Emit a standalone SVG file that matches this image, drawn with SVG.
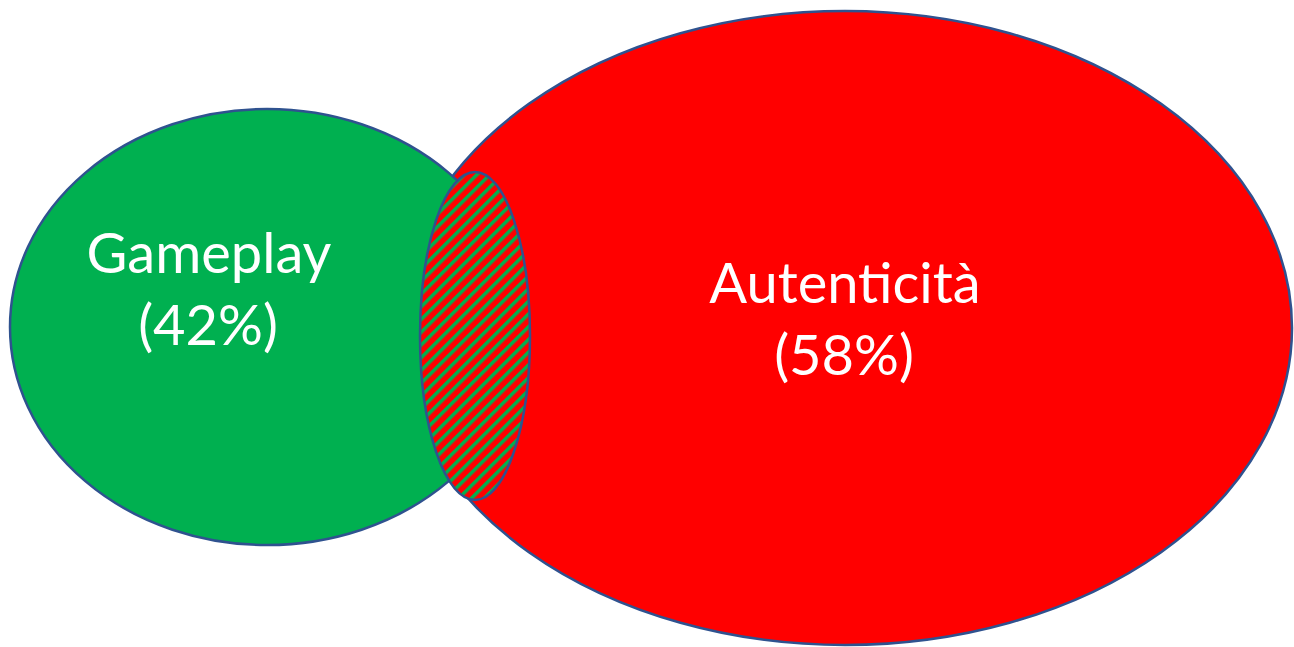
<svg xmlns="http://www.w3.org/2000/svg" width="1294" height="647" viewBox="0 0 1294 647">
<style>
.shape{stroke:#2F528F;stroke-width:2.5}
.lbl{font-family:Lato,"Open Sans","Liberation Sans",sans-serif;font-size:56px;fill:#FFFFFF;text-anchor:middle}
</style>
<defs>
<pattern id="hatch" patternUnits="userSpaceOnUse" width="9" height="9" patternTransform="rotate(45)">
<rect width="9" height="9" fill="#FF0000"/>
<rect width="3.5" height="9" fill="#00B050"/>
</pattern>
</defs>
<g id="autenticita">
<ellipse class="shape" cx="845" cy="328" rx="447" ry="317" fill="#FF0000"/>
<text class="lbl" x="845" y="303">Autenticità</text>
<text class="lbl" x="844" y="375">(58%)</text>
</g>
<g id="gameplay">
<ellipse class="shape" cx="267" cy="327" rx="257" ry="218" fill="#00B050"/>
<text class="lbl" x="209" y="273">Gameplay</text>
<text class="lbl" x="208" y="345">(42%)</text>
</g>
<g id="overlap">
<ellipse class="shape" cx="475" cy="336" rx="55" ry="164" fill="url(#hatch)"/>
</g>
<g id="connectors"/>
</svg>
